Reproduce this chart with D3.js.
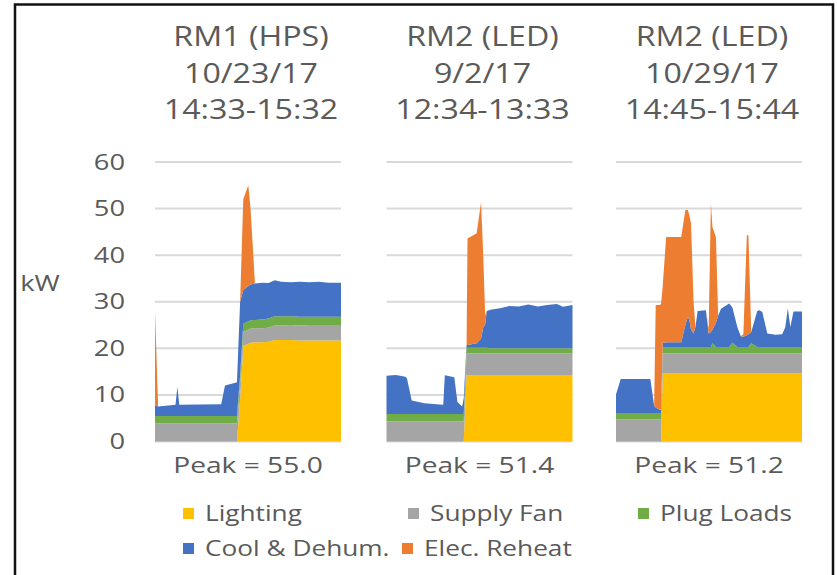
<!DOCTYPE html>
<html>
<head>
<meta charset="utf-8">
<script src="https://cdn.jsdelivr.net/npm/d3@7"></script>
<style>
  body { margin: 0; background: #fff; }
  text { font-family: "Open Sans", sans-serif; fill: #5a5a5a; }
</style>
</head>
<body>
<svg id="chart" width="837" height="575"></svg>
<script>
// series + colours
const seriesNames = ['Lighting', 'Supply Fan', 'Plug Loads', 'Cool & Dehum.', 'Elec. Reheat'];
const seriesColors = ['#FFC000', '#A5A5A5', '#70AD47', '#4472C4', '#ED7D31'];

const titleLines = [
  ['RM1 (HPS)', '10/23/17', '14:33-15:32'],
  ['RM2 (LED)', '9/2/17', '12:34-13:33'],
  ['RM2 (LED)', '10/29/17', '14:45-15:44']
];
const peakLabels = ['Peak = 55.0', 'Peak = 51.4', 'Peak = 51.2'];
const yTicks = [0, 10, 20, 30, 40, 50, 60];

// panel 1 : minutes into the hour, kW per end use
const p1Minutes = [0, 1, 5, 6.5, 7.1, 7.7, 21, 22.2, 25.5, 26, 27, 28, 29.6, 30.3, 31.1, 31.7, 34, 36, 38, 40, 43, 46, 49, 52, 55, 59];
const p1Lighting = [0, 0, 0, 0, 0, 0, 0, 0, 0, 0, 9, 20.5, 21.0, 21.2, 21.3, 21.3, 21.3, 21.4, 21.8, 21.8, 21.8, 21.7, 21.7, 21.7, 21.7, 21.7];
const p1Fan = [3.9, 3.9, 3.9, 3.9, 3.9, 3.9, 3.9, 3.9, 3.9, 3.9, 3.5, 3.0, 3.0, 3.0, 3.0, 3.0, 3.0, 3.0, 3.1, 3.1, 3.2, 3.2, 3.3, 3.3, 3.3, 3.3];
const p1Plug = [1.6, 1.6, 1.6, 1.6, 1.6, 1.6, 1.6, 1.6, 1.6, 1.6, 1.7, 1.8, 1.8, 1.8, 1.8, 1.8, 1.9, 2.0, 2.0, 2.0, 1.9, 1.9, 1.8, 1.8, 1.8, 1.8];
const p1Cool = [2.3, 2.0, 2.3, 2.4, 6.2, 2.4, 2.5, 6.5, 7.1, 7.2, 15.8, 7.2, 7.6, 7.7, 7.7, 7.8, 7.9, 7.6, 7.7, 7.4, 7.3, 7.5, 7.4, 7.5, 7.3, 7.3];
const p1Reheat = [20.2, 0, 0, 0, 0, 0, 0, 0, 0, 0, 0, 19.5, 21.6, 16.3, 7.2, 0, 0, 0, 0, 0, 0, 0, 0, 0, 0, 0];

// panel 2
const p2Minutes = [0, 3, 6, 6.5, 8, 12, 18, 18.5, 21.5, 22.5, 24, 24.5, 25.4, 25.7, 28.6, 30, 30.7, 31.3, 31.8, 33, 36, 39, 42, 45, 48, 51, 54, 56, 59];
const p2Lighting = [0, 0, 0, 0, 0, 0, 0, 0, 0, 0, 0, 0, 14.3, 14.3, 14.3, 14.3, 14.3, 14.3, 14.3, 14.3, 14.3, 14.3, 14.3, 14.3, 14.3, 14.3, 14.3, 14.3, 14.3];
const p2Fan = [4.3, 4.3, 4.3, 4.3, 4.3, 4.3, 4.3, 4.3, 4.3, 4.3, 4.3, 4.3, 4.6, 4.6, 4.6, 4.6, 4.6, 4.6, 4.6, 4.6, 4.6, 4.6, 4.6, 4.6, 4.6, 4.6, 4.6, 4.6, 4.6];
const p2Plug = [1.6, 1.6, 1.6, 1.6, 1.6, 1.6, 1.6, 1.6, 1.6, 1.6, 1.6, 1.6, 1.2, 1.2, 1.2, 1.2, 1.2, 1.2, 1.2, 1.1, 1.1, 1.1, 1.1, 1.1, 1.1, 1.1, 1.1, 1.1, 1.1];
const p2Cool = [8.2, 8.4, 8.0, 7.6, 2.9, 2.3, 2.0, 8.3, 7.9, 2.6, 1.6, 3.4, 0.6, 0.6, 1.0, 2.0, 4.5, 5.0, 7.9, 8.3, 8.6, 9.1, 9.0, 9.4, 9.0, 9.3, 9.5, 8.9, 9.3];
const p2Reheat = [0, 0, 0, 0, 0, 0, 0, 0, 0, 0, 0, 0, 0, 22.9, 23.6, 29.3, 15.0, 2.0, 0, 0, 0, 0, 0, 0, 0, 0, 0, 0, 0];

// panel 3
const p3Minutes = [0, 1.5, 10.9, 12.1, 12.6, 13.9, 14.3, 14.8, 15.9, 20.7, 22.0, 22.8, 23.3, 23.8, 24.6, 25.2, 25.9, 28.5, 29.4, 30.1, 30.6, 31.7, 32.4, 33.3, 35.9, 36.9, 38.5, 39.6, 40.4, 41.5, 42.0, 42.9, 44.8, 45.5, 46.4, 48.0, 50.6, 52.7, 53.7, 54.5, 55.3, 56.3, 59];
const p3Lighting = [0, 0, 0, 0, 0, 0, 0, 14.6, 14.6, 14.6, 14.6, 14.6, 14.6, 14.6, 14.6, 14.6, 14.6, 14.6, 14.6, 14.6, 14.6, 14.6, 14.6, 14.6, 14.6, 14.6, 14.6, 14.6, 14.6, 14.6, 14.6, 14.6, 14.6, 14.6, 14.6, 14.6, 14.6, 14.6, 14.6, 14.6, 14.6, 14.6, 14.6];
const p3Fan = [4.8, 4.8, 4.8, 4.8, 4.8, 4.8, 4.8, 4.3, 4.3, 4.3, 4.3, 4.3, 4.3, 4.3, 4.3, 4.3, 4.3, 4.3, 4.3, 4.3, 4.3, 4.3, 4.3, 4.3, 4.3, 4.3, 4.3, 4.3, 4.3, 4.3, 4.3, 4.3, 4.3, 4.3, 4.3, 4.3, 4.3, 4.3, 4.3, 4.3, 4.3, 4.3, 4.3];
const p3Plug = [1.3, 1.3, 1.3, 1.3, 1.3, 1.3, 1.3, 1.4, 1.4, 1.4, 1.4, 1.4, 1.4, 1.4, 1.4, 1.4, 1.4, 1.4, 1.4, 1.4, 2.2, 1.4, 1.4, 1.4, 1.4, 2.3, 1.4, 1.4, 1.4, 1.4, 1.4, 2.2, 1.4, 1.4, 1.4, 1.4, 1.4, 1.4, 1.4, 1.4, 1.4, 1.4, 1.4];
const p3Cool = [4.0, 7.3, 7.3, 1.6, 1.2, 0.7, 0.7, 0.9, 1.0, 1.0, 4.7, 6.5, 5.7, 3.7, 2.9, 4.3, 7.7, 7.9, 2.9, 3.2, 2.9, 5.2, 6.7, 8.2, 9.3, 7.6, 4.2, 2.3, 2.2, 2.5, 2.7, 2.4, 7.7, 7.9, 7.5, 2.9, 2.6, 2.7, 4.2, 8.3, 4.3, 7.6, 7.6];
const p3Reheat = [0, 0, 0, 0, 22.0, 22.5, 22.7, 12.0, 22.6, 22.6, 24.7, 22.9, 22.5, 22.8, 6.8, 0, 0, 0, 1.0, 27.7, 22.0, 18.4, 0, 0, 0, 0, 0, 0, 0.5, 21.5, 21.3, 0, 0, 0, 0, 0, 0, 0, 0, 0, 0, 0, 0];

const panels = [
  [p1Minutes, p1Lighting, p1Fan, p1Plug, p1Cool, p1Reheat],
  [p2Minutes, p2Lighting, p2Fan, p2Plug, p2Cool, p2Reheat],
  [p3Minutes, p3Lighting, p3Fan, p3Plug, p3Cool, p3Reheat]
];

const svg = d3.select('#chart');

// frame around the picture
svg.append('rect')
  .attr('x', 15).attr('y', 4.5)
  .attr('width', 818).attr('height', 600)
  .attr('fill', 'none')
  .attr('stroke', '#111')
  .attr('stroke-width', 2.5);

const y = d3.scaleLinear().domain([0, 60]).range([441.5, 162]);
const panelX = [155, 386.5, 616];
const panelW = 186;

// stretched text helper (the source picture is wider than tall)
function label(g, x, yy, str, size, sx, anchor) {
  return g.append('text')
    .attr('transform', `translate(${x},${yy}) scale(${sx},1)`)
    .attr('text-anchor', anchor || 'middle')
    .style('font-size', size + 'px')
    .text(str);
}

// y axis labels
yTicks.forEach(t => label(svg, 125, y(t) + 7.5, t, 21, 1.3, 'end'));
label(svg, 40, 291, 'kW', 21, 1.3, 'middle');

const stack = d3.stack().keys(d3.range(5));

panels.forEach((p, i) => {
  const minutes = p[0];
  const rows = minutes.map((m, j) => {
    const r = { m: m };
    for (let k = 0; k < 5; k++) r[k] = p[k + 1][j];
    return r;
  });

  const x = d3.scaleLinear().domain([0, 59]).range([panelX[i], panelX[i] + panelW]);
  const g = svg.append('g').attr('class', 'panel');

  g.selectAll('line.grid')
    .data(yTicks)
    .enter().append('line')
    .attr('class', 'grid')
    .attr('x1', x(0)).attr('x2', x(59))
    .attr('y1', d => y(d)).attr('y2', d => y(d))
    .attr('stroke', '#d9d9d9')
    .attr('stroke-width', 2);

  const area = d3.area()
    .x(d => x(d.data.m))
    .y0(d => y(d[0]))
    .y1(d => y(d[1]));

  g.selectAll('path.layer')
    .data(stack(rows))
    .enter().append('path')
    .attr('class', 'layer')
    .attr('d', area)
    .attr('fill', (d, k) => seriesColors[k]);

  const cx = panelX[i] + panelW / 2;
  titleLines[i].forEach((t, k) => label(svg, cx + 3, 46 + k * 36.5, t, 28, 1.15));
  label(svg, cx, 473, peakLabels[i], 22, 1.28);
});

// legend
const legendPos = [[183, 508], [408, 508], [638, 508], [183, 543], [402, 543]];
const leg = svg.selectAll('g.legend')
  .data(seriesNames)
  .enter().append('g')
  .attr('class', 'legend')
  .attr('transform', (d, i) => `translate(${legendPos[i][0]},${legendPos[i][1]})`);

leg.append('rect')
  .attr('width', 11).attr('height', 11)
  .attr('fill', (d, i) => seriesColors[i]);

leg.each(function (d) {
  label(d3.select(this), 22, 12.5, d, 21.5, 1.22, 'start');
});
</script>
</body>
</html>
